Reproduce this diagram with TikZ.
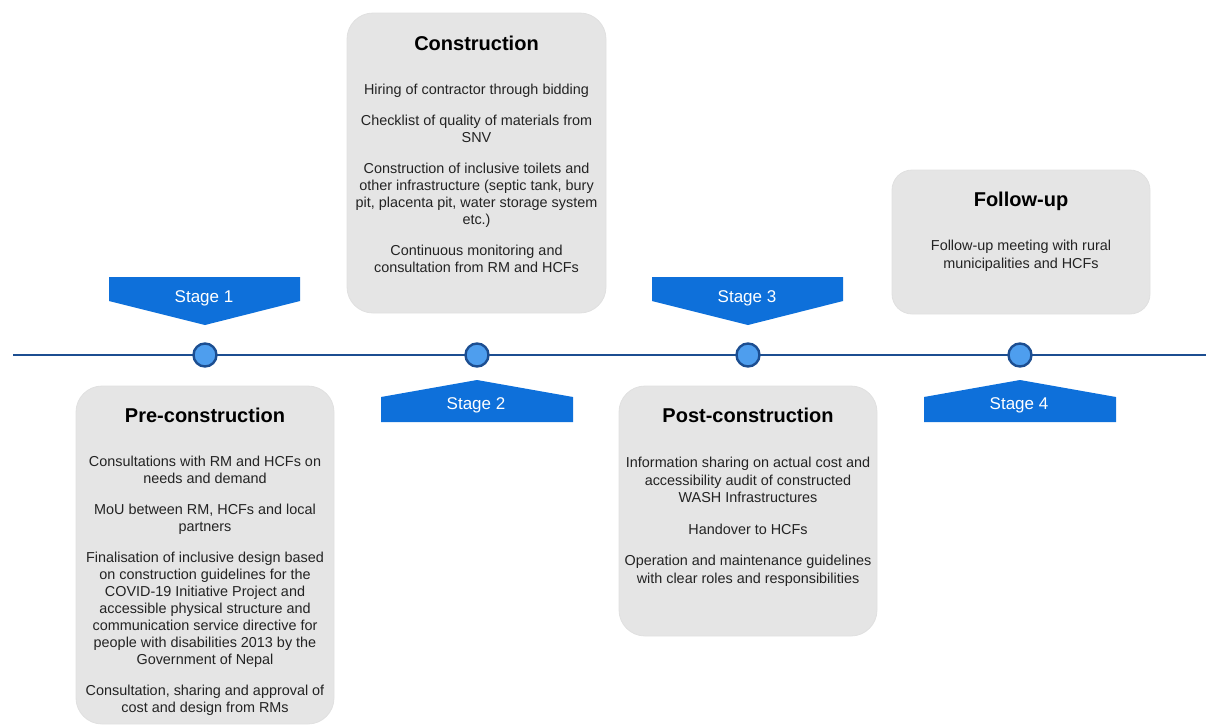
\documentclass[tikz,border=0pt]{standalone}
\usepackage{fontspec}
\setmainfont{Liberation Sans}
\definecolor{linedark}{RGB}{28,78,145}
\definecolor{dotfill}{RGB}{78,158,238}
\definecolor{bannerblue}{RGB}{14,112,218}
\definecolor{boxgray}{RGB}{229,229,229}
\definecolor{bodytext}{RGB}{35,35,35}

\begin{document}
\begin{tikzpicture}[x=1pt,y=-1pt,
        phasebox/.style={rounded corners=26pt, fill=boxgray, draw=black!12, line width=0.8pt, minimum width=258pt, inner sep=0pt},
        phasetitle/.style={anchor=base, font=\fontsize{20}{24}\selectfont\bfseries},
        phasetext/.style={anchor=north, align=center, inner sep=0pt, text=bodytext, font=\fontsize{14.4}{17}\selectfont},
        stagedot/.style={circle, fill=dotfill, draw=linedark, line width=2.4pt, minimum size=23pt, inner sep=0pt},
        banner/.style={fill=bannerblue},
        stagelabel/.style={anchor=base, text=white, font=\fontsize{17}{20}\selectfont},
        timeline/.style={draw=linedark, line width=2.4pt}]

        \useasboundingbox (0,0) rectangle (1206,726);

        % timeline
        \coordinate (tl) at (13,355);
        \coordinate (tr) at (1206,355);
        \draw[timeline] (tl) -- (tr);

        \node[stagedot] (d1) at (205,355) {};
        \node[stagedot] (d2) at (477,355) {};
        \node[stagedot] (d3) at (748,355) {};
        \node[stagedot] (d4) at (1020,355) {};

        % stage banners
        \fill[banner] (109,277) -- (300,277) -- (300,301) -- (205,325) -- (109,301) -- cycle;
        \node[stagelabel] (st1) at (204,302) {Stage 1};
        \fill[banner] (381,422) -- (573,422) -- (573,397) -- (477,380) -- (381,397) -- cycle;
        \node[stagelabel] (st2) at (476,409) {Stage 2};
        \fill[banner] (652,277) -- (843,277) -- (843,301) -- (748,325) -- (652,301) -- cycle;
        \node[stagelabel] (st3) at (747,302) {Stage 3};
        \fill[banner] (924,422) -- (1116,422) -- (1116,397) -- (1020,380) -- (924,397) -- cycle;
        \node[stagelabel] (st4) at (1019,409) {Stage 4};

        % pre-construction
        \node[phasebox, minimum height=338pt] (prebox) at (205,555) {};
        \node[phasetitle] (pretitle) at (205,422) {Pre-construction};
        \node[phasetext] (pretext) at (205,455.5) {Consultations with RM and HCFs on\\ needs and demand\\[14pt]
            MoU between RM, HCFs and local\\ partners\\[14pt]
            Finalisation of inclusive design based\\ on construction guidelines for the\\ COVID-19 Initiative Project and\\ accessible physical structure and\\ communication service directive for\\ people with disabilities 2013 by the\\ Government of Nepal\\[14pt]
            Consultation, sharing and approval of\\ cost and design from RMs};

        % construction
        \node[phasebox, minimum width=259pt, minimum height=300pt] (conbox) at (476.5,163) {};
        \node[phasetitle] (contitle) at (476.5,50) {Construction};
        \node[phasetext] (context) at (476.5,84) {Hiring of contractor through bidding\\[14pt]
            Checklist of quality of materials from\\ SNV\\[14pt]
            Construction of inclusive toilets and\\ other infrastructure (septic tank, bury\\ pit, placenta pit, water storage system\\ etc.)\\[14pt]
            Continuous monitoring and\\ consultation from RM and HCFs};

        % post-construction
        \node[phasebox, minimum height=250pt] (postbox) at (748,511) {};
        \node[phasetitle] (posttitle) at (748,422) {Post-construction};
        \node[phasetext, font=\fontsize{14.4}{17.5}\selectfont] (posttext) at (748,457) {Information sharing on actual cost and\\ accessibility audit of constructed\\ WASH Infrastructures\\[14pt]
            Handover to HCFs\\[14pt]
            Operation and maintenance guidelines\\ with clear roles and responsibilities};

        % follow-up
        \node[phasebox, rounded corners=20pt, minimum height=144pt] (folbox) at (1021,242) {};
        \node[phasetitle] (foltitle) at (1021,206) {Follow-up};
        \node[phasetext, font=\fontsize{14.4}{18}\selectfont] (foltext) at (1021,240) {Follow-up meeting with rural\\ municipalities and HCFs};

\end{tikzpicture}
\end{document}
